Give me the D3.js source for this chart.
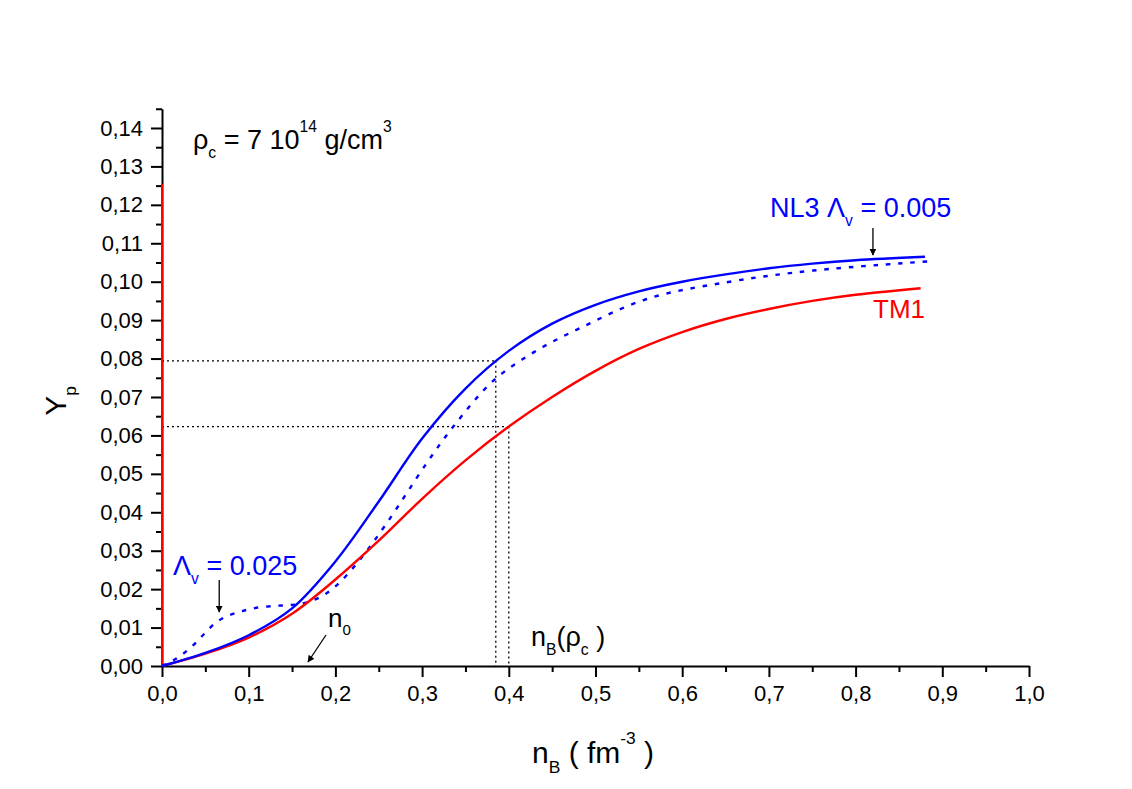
<!DOCTYPE html>
<html><head><meta charset="utf-8">
<script src="https://cdn.jsdelivr.net/npm/d3@7"></script>
<style>
body{margin:0;background:#fff;}
text{font-family:"Liberation Sans",Arial,sans-serif;}
</style></head>
<body><svg id="c" width="1132" height="789"></svg>
<script>
// ---- data ----
const tm1X = [0,0.05,0.1,0.15,0.2,0.25,0.3,0.35,0.4,0.45,0.5,0.55,0.6,0.65,0.7,0.75,0.8,0.875];
const tm1Y = [0,0.0032,0.0074,0.0136,0.0225,0.0326,0.0435,0.0535,0.0623,0.0700,0.0768,0.0825,0.0869,0.0903,0.0929,0.0950,0.0966,0.0983];

const nl3X = [0,0.05,0.1,0.15,0.2,0.25,0.3,0.35,0.4,0.45,0.5,0.55,0.6,0.65,0.7,0.75,0.8,0.88];
const nl3Y = [0,0.0034,0.0080,0.0150,0.0272,0.0428,0.0592,0.0722,0.0820,0.0891,0.0940,0.0975,0.1000,0.1019,0.1035,0.1047,0.1056,0.1065];

const nl3bX = [0,0.017,0.034,0.048,0.061,0.075,0.09,0.105,0.128,0.15,0.165,0.183,0.2,0.228,0.259,0.305,0.336,0.382,0.43,0.482,0.559,0.655,0.751,0.885];
const nl3bY = [0,0.002,0.005,0.0082,0.0111,0.013,0.0141,0.015,0.0156,0.0159,0.0164,0.018,0.0207,0.0276,0.0371,0.0527,0.0623,0.0742,0.0818,0.0879,0.0955,0.1000,0.1029,0.1053];

const redAxisSeg = [[0,0],[0,0.1255]];
const guideA = {x:0.385, y:0.0794};
const guideB = {x:0.400, y:0.0623};

const xMajor = [0,0.1,0.2,0.3,0.4,0.5,0.6,0.7,0.8,0.9,1.0];
const xMinor = [0.05,0.15,0.25,0.35,0.45,0.55,0.65,0.75,0.85,0.95];
const yMajor = [0,0.01,0.02,0.03,0.04,0.05,0.06,0.07,0.08,0.09,0.10,0.11,0.12,0.13,0.14];
const yMinor = [0.005,0.015,0.025,0.035,0.045,0.055,0.065,0.075,0.085,0.095,0.105,0.115,0.125,0.135,0.145];

// ---- scales ----
const svg = d3.select("#c");
const x = d3.scaleLinear().domain([0,1]).range([162,1029]);
const y = d3.scaleLinear().domain([0,0.145]).range([666,666-0.145*3843]);

const fontF = "'Liberation Sans',Arial,sans-serif";

// axes
const xAxis = d3.axisBottom(x).tickValues(xMajor).tickSize(11).tickSizeOuter(0)
  .tickFormat(d=>d3.format(".1f")(d).replace(".",","));
const gx = svg.append("g").attr("transform","translate(0,666)").call(xAxis);
gx.selectAll("text").attr("y",35).attr("dy",null).attr("font-size",22).attr("font-family",fontF).attr("fill","#000");
const xAxisMinor = d3.axisBottom(x).tickValues(xMinor).tickSize(6).tickSizeOuter(0).tickFormat("");
const gx2 = svg.append("g").attr("transform","translate(0,666)").call(xAxisMinor);
gx2.select(".domain").remove();

const yAxis = d3.axisLeft(y).tickValues(yMajor).tickSize(11).tickSizeOuter(0)
  .tickFormat(d=>d3.format(".2f")(d).replace(".",","));
const gy = svg.append("g").attr("transform","translate(162,0)").call(yAxis);
gy.selectAll("text").attr("x",-19).attr("font-size",22).attr("font-family",fontF).attr("fill","#000");
const yAxisMinor = d3.axisLeft(y).tickValues(yMinor).tickSize(6).tickSizeOuter(0).tickFormat("");
const gy2 = svg.append("g").attr("transform","translate(162,0)").call(yAxisMinor);
gy2.select(".domain").remove();
svg.selectAll(".domain, .tick line").attr("stroke","#000").attr("stroke-width",2);

// guide dotted lines
const guides = svg.append("g").attr("stroke","#000").attr("stroke-width",1.3).attr("stroke-dasharray","2,3").attr("fill","none");
[guideA,guideB].forEach(g=>{
  guides.append("line").attr("x1",x(0)).attr("x2",x(g.x)).attr("y1",y(g.y)).attr("y2",y(g.y));
  guides.append("line").attr("x1",x(g.x)).attr("x2",x(g.x)).attr("y1",y(g.y)).attr("y2",y(0));
});

// curves
const line = d3.line().x(d=>x(d[0])).y(d=>y(d[1])).curve(d3.curveCatmullRom.alpha(0.5));
const zip = (a,b)=>a.map((v,i)=>[v,b[i]]);
svg.append("path").datum(redAxisSeg).attr("d",d3.line().x(d=>x(d[0])).y(d=>y(d[1])))
  .attr("stroke","#ff0000").attr("stroke-width",2).attr("fill","none");
svg.append("path").datum(zip(nl3bX,nl3bY)).attr("d",line).attr("stroke","#0000ff").attr("stroke-width",2.4)
  .attr("stroke-dasharray","4.5,7.8").attr("fill","none");
svg.append("path").datum(zip(tm1X,tm1Y)).attr("d",line).attr("stroke","#ff0000").attr("stroke-width",2.4).attr("fill","none");
svg.append("path").datum(zip(nl3X,nl3Y)).attr("d",line).attr("stroke","#0000ff").attr("stroke-width",2.4).attr("fill","none");

// rich text helper
function rich(parent, px, py, parts, size, color, anchor, transform){
  const t = parent.append("text").attr("x",px).attr("y",py).attr("font-size",size)
    .attr("fill",color).attr("text-anchor",anchor||"start");
  if(transform) t.attr("transform",transform);
  let cur = 0;
  parts.forEach(p=>{
    const shift = p.sub ? size*0.32 : p.sup ? -size*0.62 : 0;
    const ts = t.append("tspan").attr("dy", shift-cur).text(p.t);
    if(p.sub||p.sup) ts.attr("font-size", size*0.58);
    cur = shift;
  });
  return t;
}

// annotations
rich(svg, 193, 149, [{t:"ρ"},{t:"c",sub:true},{t:" = 7 10"},{t:"14",sup:true},{t:" g/cm"},{t:"3",sup:true}], 27, "#000");
rich(svg, 770, 217, [{t:"NL3 Λ"},{t:"v",sub:true},{t:" = 0.005"}], 27, "#0000ff");
rich(svg, 873, 318, [{t:"TM1"}], 26, "#ff0000");
rich(svg, 173, 575, [{t:"Λ"},{t:"v",sub:true},{t:" = 0.025"}], 27, "#0000ff");
rich(svg, 328, 627, [{t:"n"},{t:"0",sub:true}], 26, "#000");
rich(svg, 531, 646, [{t:"n"},{t:"B",sub:true},{t:"(ρ"},{t:"c",sub:true},{t:" )"}], 27, "#000");

// axis titles
rich(svg, 532, 763, [{t:"n"},{t:"B",sub:true},{t:" ( fm"},{t:"-3",sup:true},{t:" )"}], 30, "#000");
rich(svg, 0, 0, [{t:"Y"},{t:"p",sub:true}], 30, "#000", "middle", "translate(66,401) rotate(-90)");

// arrows
const defs = svg.append("defs");
defs.append("marker").attr("id","ah").attr("viewBox","0 0 10 10").attr("refX",9).attr("refY",5)
  .attr("markerWidth",7).attr("markerHeight",7).attr("orient","auto").attr("markerUnits","userSpaceOnUse")
  .append("path").attr("d","M0,0 L10,5 L0,10 z").attr("fill","#000");
function arrow(x1,y1,x2,y2){
  svg.append("line").attr("x1",x1).attr("y1",y1).attr("x2",x2).attr("y2",y2)
    .attr("stroke","#000").attr("stroke-width",1.3).attr("marker-end","url(#ah)");
}
arrow(x(0.82), 228, x(0.82), 255);
arrow(x(0.066), 580, x(0.066), 612);
arrow(326, 635, 308, 662);
</script></body></html>
